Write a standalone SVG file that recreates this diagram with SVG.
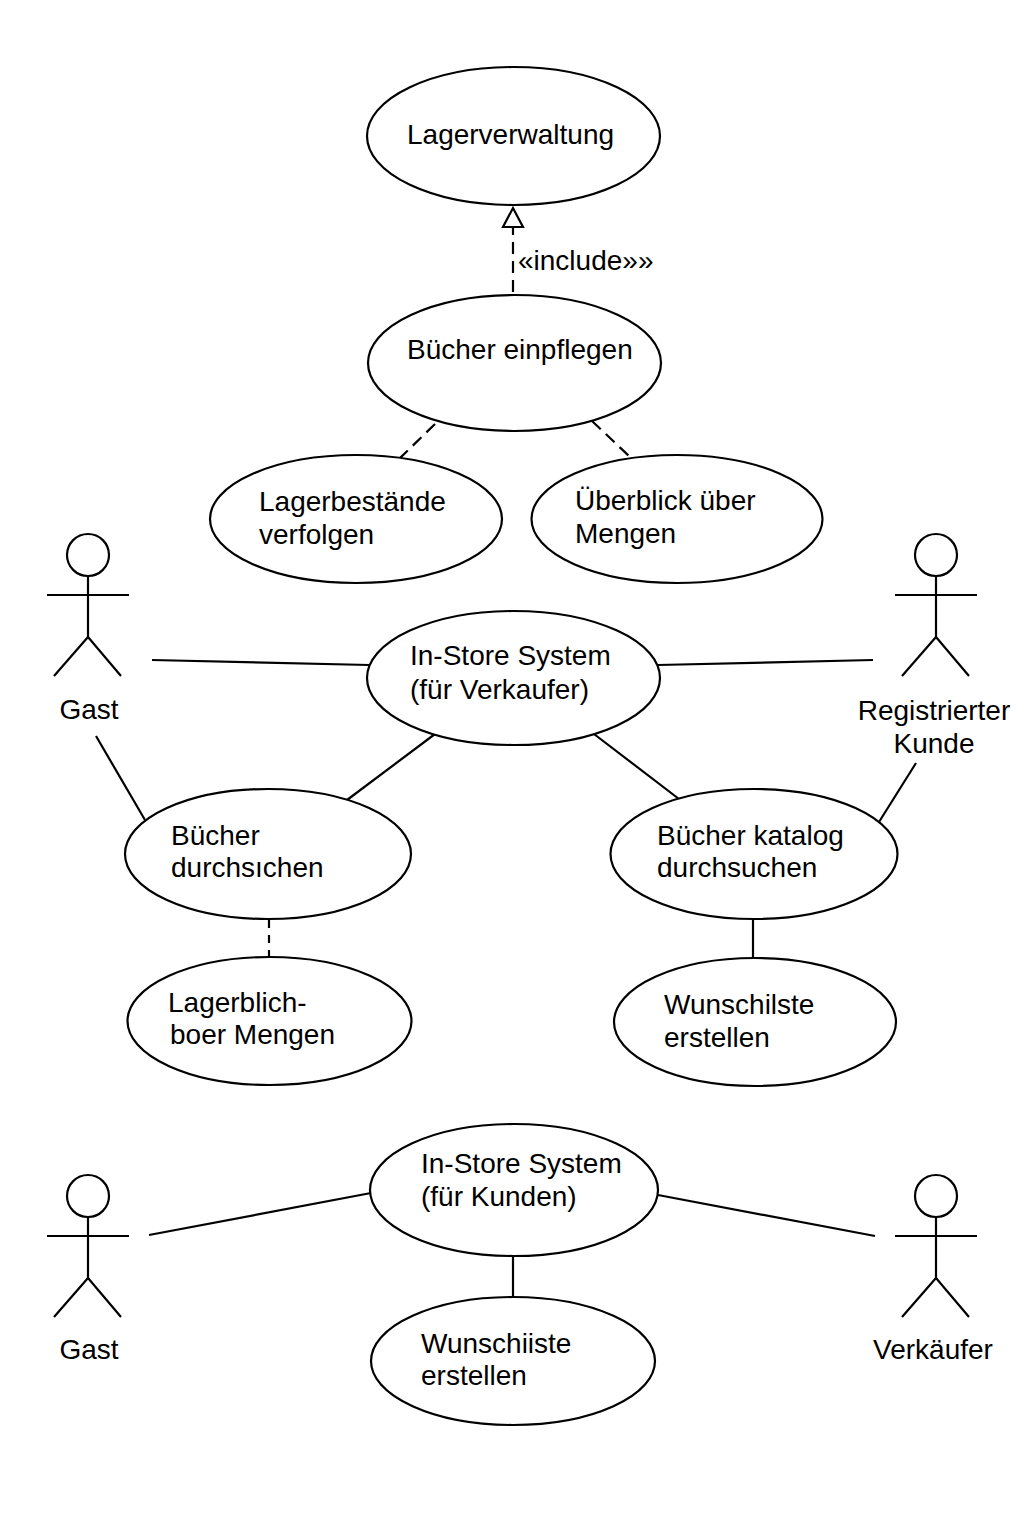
<svg xmlns="http://www.w3.org/2000/svg" width="1024" height="1536" viewBox="0 0 1024 1536">
<style>
text{font-family:"Liberation Sans",Arial,sans-serif;font-size:28px;fill:#000}
ellipse,circle,.l{fill:none;stroke:#000;stroke-width:2.2}
ellipse,circle{fill:#fff}
.d{stroke-dasharray:12 7}
.s{stroke-dasharray:8 7}
.m{text-anchor:middle}
</style>
<defs>
<g id="stick">
<circle cx="0" cy="-40" r="21"/>
<path class="l" d="M0-19V42M-41 0H41M0 42L-34 81M0 42L33 81"/>
</g>
</defs>
<rect width="1024" height="1536" fill="#fff"/>
<g id="connectors">
<path class="l d" d="M513 292V227"/>
<path class="l" d="M513 227H503L513 208L523 227Z"/>
<path class="l d" d="M435 424L399 459"/>
<path class="l d" d="M592 421L629 456"/>
<path class="l" d="M152 660L369 665"/>
<path class="l" d="M658 665L873 660"/>
<path class="l" d="M435 734L347 800"/>
<path class="l" d="M594 734L679 799"/>
<path class="l" d="M96 736L145 820"/>
<path class="l" d="M916 763L879 822"/>
<path class="l s" d="M269 920V958"/>
<path class="l" d="M753 918V958"/>
<path class="l" d="M149 1235L371 1193"/>
<path class="l" d="M658 1195L875 1236"/>
<path class="l" d="M513 1256V1297"/>
</g>
<g id="lagerverwaltung"><ellipse cx="513.5" cy="136" rx="146.5" ry="69"/><text x="407" y="144">Lagerverwaltung</text></g>
<g id="include-label"><text x="518" y="270">«include»»</text></g>
<g id="buecher-einpflegen"><ellipse cx="514.5" cy="363" rx="146.5" ry="68"/><text x="407" y="359">Bücher einpflegen</text></g>
<g id="lagerbestaende"><ellipse cx="356" cy="519" rx="146" ry="64"/><text x="259" y="511">Lagerbestände</text><text x="259" y="544">verfolgen</text></g>
<g id="ueberblick"><ellipse cx="677" cy="519" rx="145.500" ry="64"/><text x="575" y="510">Überblick über</text><text x="575" y="543">Mengen</text></g>
<g id="actor-gast-1"><use href="#stick" x="88" y="595"/><text class="m" x="89" y="719">Gast</text></g>
<g id="actor-registriert"><use href="#stick" x="936" y="595"/><text class="m" x="934" y="720">Registrierter</text><text class="m" x="934" y="753">Kunde</text></g>
<g id="in-store-verkaufer"><ellipse cx="513.5" cy="678" rx="146.5" ry="67"/><text x="410" y="665">In-Store System</text><text x="410" y="699">(für Verkaufer)</text></g>
<g id="buecher-durchsichen"><ellipse cx="268" cy="854" rx="143" ry="65"/><text x="171" y="845">Bücher</text><text x="171" y="877">durchsıchen</text></g>
<g id="katalog"><ellipse cx="754" cy="854" rx="143.500" ry="65"/><text x="657" y="845">Bücher katalog</text><text x="657" y="877">durchsuchen</text></g>
<g id="lagerblich"><ellipse cx="269.500" cy="1021" rx="142" ry="64"/><text x="168" y="1012">Lagerblich-</text><text x="170" y="1044">boer Mengen</text></g>
<g id="wunschliste-1"><ellipse cx="755" cy="1022" rx="141" ry="64"/><text x="664" y="1014">Wunschilste</text><text x="664" y="1047">erstellen</text></g>
<g id="actor-gast-2"><use href="#stick" x="88" y="1236"/><text class="m" x="89" y="1359">Gast</text></g>
<g id="actor-verkaeufer"><use href="#stick" x="936" y="1236"/><text class="m" x="933" y="1359">Verkäufer</text></g>
<g id="in-store-kunden"><ellipse cx="514" cy="1190" rx="144" ry="66"/><text x="421" y="1173">In-Store System</text><text x="421" y="1206">(für Kunden)</text></g>
<g id="wunschliste-2"><ellipse cx="513" cy="1361" rx="142" ry="64"/><text x="421" y="1353">Wunschiiste</text><text x="421" y="1385">erstellen</text></g>
</svg>
